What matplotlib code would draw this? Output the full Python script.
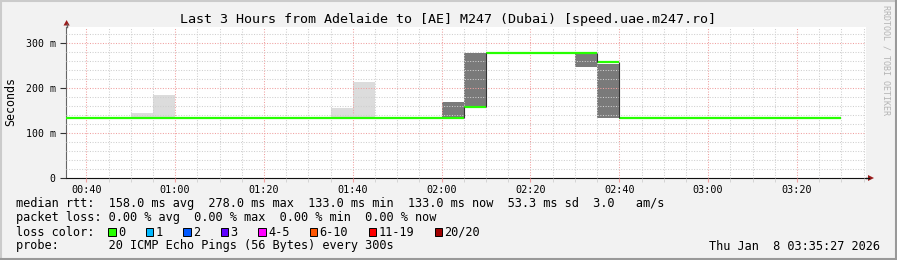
import matplotlib.pyplot as plt
from matplotlib.ticker import MultipleLocator, FuncFormatter
from matplotlib.lines import Line2D
from matplotlib.patches import Polygon
import numpy as np

W, H = 897, 260

# 5 minute bins, start time in minutes after midnight
bin_start = [35, 40, 45, 50, 55, 60, 65, 70, 75, 80, 85, 90, 95, 100, 105, 110, 115,
             120, 125, 130, 135, 140, 145, 150, 155,
             160, 165, 170, 175, 180, 185, 190, 195, 200, 205]
median_ms = [133, 133, 133, 133, 133, 133, 133, 133, 133, 133, 133, 133, 133, 133, 133, 133, 133,
             133, 157, 278, 278, 278, 278, 278, 257,
             133, 133, 133, 133, 133, 133, 133, 133, 133, 133]

# smoke (ping spread) per bin
smoke_start = [50, 55, 95, 100, 120, 125, 150, 155]
smoke_lo = [133, 133, 133, 133, 133, 161, 246, 133]
smoke_hi = [145, 184, 156, 213, 169, 278, 278, 254]
smoke_col = ['#dcdcdc', '#dcdcdc', '#dcdcdc', '#dcdcdc', '#7a7a7a', '#7a7a7a', '#7a7a7a', '#7a7a7a']

x_start, x_end = 35.45, 215.45
y_max = 336

loss_labels = ['0', '1', '2', '3', '4-5', '6-10', '11-19', '20/20']
loss_colors = ['#26ff00', '#00b8ff', '#0059ff', '#5e00ff', '#ff00ff', '#ff5500', '#ff0000', '#a00000']
loss_text_x = [118.0, 155.5, 193.0, 230.5, 268.0, 319.5, 378.5, 444.5]

legend_rows = [
    "median rtt:  158.0 ms avg  278.0 ms max  133.0 ms min  133.0 ms now  53.3 ms sd  3.0   am/s",
    "packet loss: 0.00 % avg  0.00 % max  0.00 % min  0.00 % now",
    "loss color:",
    "probe:       20 ICMP Echo Pings (56 Bytes) every 300s",
]

mono = 'DejaVu Sans Mono'
fs = 8.55


def fx(x):
    return x / W


def fy(y):
    return 1 - y / H


fig = plt.figure(figsize=(W / 100, H / 100), dpi=100, facecolor='#f2f2f2')

# frame shading
fig.add_artist(Line2D([fx(0), fx(W)], [fy(1), fy(1)], color='#cbcbcb', lw=1.5))
fig.add_artist(Line2D([fx(1), fx(1)], [fy(0), fy(H)], color='#cbcbcb', lw=1.5))
fig.add_artist(Line2D([fx(0), fx(W)], [fy(H - 1), fy(H - 1)], color='#999999', lw=1.5))
fig.add_artist(Line2D([fx(W - 1), fx(W - 1)], [fy(0), fy(H)], color='#999999', lw=1.5))

ax = fig.add_axes([fx(66.1), fy(178), 799.5 / W, 151.3 / H])
ax.set_facecolor('white')
ax.set_xlim(x_start, x_end)
ax.set_ylim(0, y_max)

# smoke
for s, lo, hi, c in zip(smoke_start, smoke_lo, smoke_hi, smoke_col):
    ax.bar(s, hi - lo, bottom=lo, width=5, align='edge', color=c, lw=0, zorder=1)

# median line
starts = np.array(bin_start)
ax.hlines(median_ms, starts, starts + 5, color='#26ff00', lw=1.6, zorder=3)
for i in range(1, len(median_ms)):
    if median_ms[i] != median_ms[i - 1]:
        ax.vlines(bin_start[i], median_ms[i - 1], median_ms[i], color='#333333', lw=0.8, zorder=3)

# grid
ax.xaxis.set_major_locator(MultipleLocator(20))
ax.xaxis.set_minor_locator(MultipleLocator(5))
ax.yaxis.set_major_locator(MultipleLocator(100))
ax.yaxis.set_minor_locator(MultipleLocator(20))
ax.set_axisbelow(False)
ax.grid(which='minor', color='#cfcfcf', lw=0.75, ls=(0, (1, 1.5)))
ax.grid(which='major', color='#f0a0a0', lw=0.75, ls=(0, (1, 1.5)))

ax.xaxis.set_major_formatter(FuncFormatter(lambda v, p: '%02d:%02d' % (int(v) // 60, int(v) % 60)))
ax.yaxis.set_major_formatter(FuncFormatter(lambda v, p: '0' if v == 0 else '%d m' % v))
ax.tick_params(axis='x', which='major', length=3, color='#f0a0a0', pad=2, labelsize=7.3)
ax.tick_params(axis='x', which='minor', length=3, color='#cfcfcf')
ax.tick_params(axis='y', which='major', length=4, color='#333333', pad=3.5, labelsize=7.1)
ax.tick_params(axis='y', which='minor', length=0)
for lab in ax.get_xticklabels() + ax.get_yticklabels():
    lab.set_family(mono)

for side in ['top', 'right']:
    ax.spines[side].set_visible(False)
ax.spines['left'].set_color('#666666')
ax.spines['bottom'].set_color('#111111')

# axis arrows
fig.add_artist(Line2D([fx(66.6), fx(66.6)], [fy(26.7), fy(24)], color='#666666', lw=1))
fig.add_artist(Polygon([[fx(63.5), fy(25.5)], [fx(69.7), fy(25.5)], [fx(66.6), fy(20)]],
                       closed=True, color='#9b1c1c', lw=0))
fig.add_artist(Line2D([fx(865.6), fx(869)], [fy(178), fy(178)], color='#111111', lw=1))
fig.add_artist(Polygon([[fx(868), fy(175)], [fx(868), fy(181)], [fx(874), fy(178)]],
                       closed=True, color='#9b1c1c', lw=0))

fig.text(fx(448), fy(19), 'Last 3 Hours from Adelaide to [AE] M247 (Dubai) [speed.uae.m247.ro]',
         family=mono, fontsize=9.6, ha='center', va='center')
fig.text(fx(11), fy(101), 'Seconds', family=mono, fontsize=8.4, rotation=90, ha='center', va='center')
fig.text(fx(886), fy(5), 'RRDTOOL / TOBI OETIKER', family=mono, fontsize=6, rotation=270,
         ha='center', va='top', color='#b4b4b4')

row_y = [204, 218, 232, 246]
for txt, y in zip(legend_rows, row_y):
    fig.text(fx(16), fy(y), txt, family=mono, fontsize=fs, ha='left', va='center')

for lab, col, tx in zip(loss_labels, loss_colors, loss_text_x):
    bx = tx - 10
    fig.add_artist(Polygon([[fx(bx), fy(228)], [fx(bx + 7.5), fy(228)], [fx(bx + 7.5), fy(236)],
                            [fx(bx), fy(236)]], closed=True, facecolor=col, edgecolor='black', lw=0.7))
    fig.text(fx(tx), fy(232), lab, family=mono, fontsize=fs, ha='left', va='center')

fig.text(fx(880), fy(246), 'Thu Jan  8 03:35:27 2026', family=mono, fontsize=fs, ha='right', va='center')

fig.savefig('out.png', dpi=100, facecolor=fig.get_facecolor())
